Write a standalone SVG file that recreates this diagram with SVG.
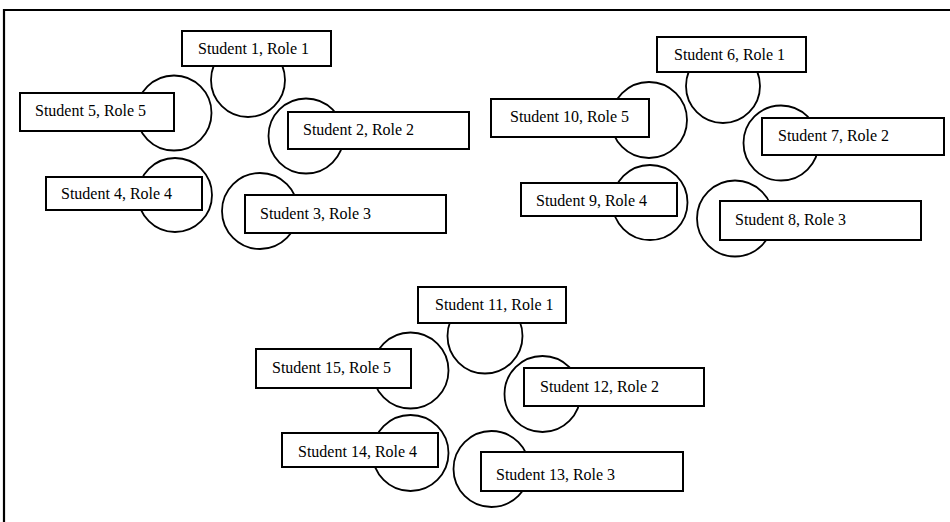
<svg xmlns="http://www.w3.org/2000/svg" width="950" height="522" viewBox="0 0 950 522">
<style>
.frame{stroke:#000;stroke-width:2.2;fill:none}
.seat{fill:#fff;stroke:#000;stroke-width:1.8}
.box{fill:#fff;stroke:#000;stroke-width:2}
.lbl{font-family:"Liberation Serif","Times New Roman",serif;font-size:16px;fill:#000}
</style>
<rect width="950" height="522" fill="#fff"/>
<path class="frame" d="M4 522 V10 H950"/>
<g id="connectors"></g>
<!-- group 1 -->
<g id="seats1">
<circle class="seat" cx="248" cy="80" r="37"/>
<circle class="seat" cx="306" cy="136" r="37.5"/>
<circle class="seat" cx="260" cy="211" r="38"/>
<circle class="seat" cx="175" cy="195" r="37"/>
<circle class="seat" cx="174" cy="113" r="37.5"/>
</g>
<g id="s1"><rect class="box" x="182" y="31" width="149" height="35"/><text class="lbl" x="198" y="54">Student 1, Role 1</text></g>
<g id="s2"><rect class="box" x="288" y="112" width="181" height="37"/><text class="lbl" x="303" y="135">Student 2, Role 2</text></g>
<g id="s3"><rect class="box" x="245" y="195" width="201" height="38"/><text class="lbl" x="260" y="219">Student 3, Role 3</text></g>
<g id="s4"><rect class="box" x="46" y="177" width="156" height="33"/><text class="lbl" x="61" y="199">Student 4, Role 4</text></g>
<g id="s5"><rect class="box" x="20" y="93" width="154" height="38"/><text class="lbl" x="35" y="116">Student 5, Role 5</text></g>
<!-- group 2 -->
<g id="seats2">
<circle class="seat" cx="723" cy="86" r="37"/>
<circle class="seat" cx="781" cy="143" r="37.5"/>
<circle class="seat" cx="735" cy="218.5" r="38"/>
<circle class="seat" cx="650" cy="202.5" r="37.5"/>
<circle class="seat" cx="649" cy="120" r="38"/>
</g>
<g id="s6"><rect class="box" x="657" y="37" width="149" height="35"/><text class="lbl" x="674" y="60">Student 6, Role 1</text></g>
<g id="s7"><rect class="box" x="762" y="118" width="182" height="37"/><text class="lbl" x="778" y="141">Student 7, Role 2</text></g>
<g id="s8"><rect class="box" x="720" y="201" width="201" height="39"/><text class="lbl" x="735" y="225">Student 8, Role 3</text></g>
<g id="s9"><rect class="box" x="521" y="183" width="156" height="33"/><text class="lbl" x="536" y="206">Student 9, Role 4</text></g>
<g id="s10"><rect class="box" x="491" y="99" width="158" height="38"/><text class="lbl" x="510" y="122">Student 10, Role 5</text></g>
<!-- group 3 -->
<g id="seats3">
<circle class="seat" cx="485" cy="336" r="37.5"/>
<circle class="seat" cx="542.5" cy="394" r="38"/>
<circle class="seat" cx="491.5" cy="469" r="38"/>
<circle class="seat" cx="410.5" cy="453" r="38"/>
<circle class="seat" cx="410.5" cy="370.5" r="38"/>
</g>
<g id="s11"><rect class="box" x="418" y="287" width="148" height="36"/><text class="lbl" x="435" y="310">Student 11, Role 1</text></g>
<g id="s12"><rect class="box" x="524" y="368" width="180" height="38"/><text class="lbl" x="540" y="392">Student 12, Role 2</text></g>
<g id="s13"><rect class="box" x="481" y="452" width="202" height="39"/><text class="lbl" x="496" y="480">Student 13, Role 3</text></g>
<g id="s14"><rect class="box" x="282" y="433" width="156" height="34"/><text class="lbl" x="298" y="457">Student 14, Role 4</text></g>
<g id="s15"><rect class="box" x="256" y="349" width="155" height="39"/><text class="lbl" x="272" y="373">Student 15, Role 5</text></g>
</svg>
